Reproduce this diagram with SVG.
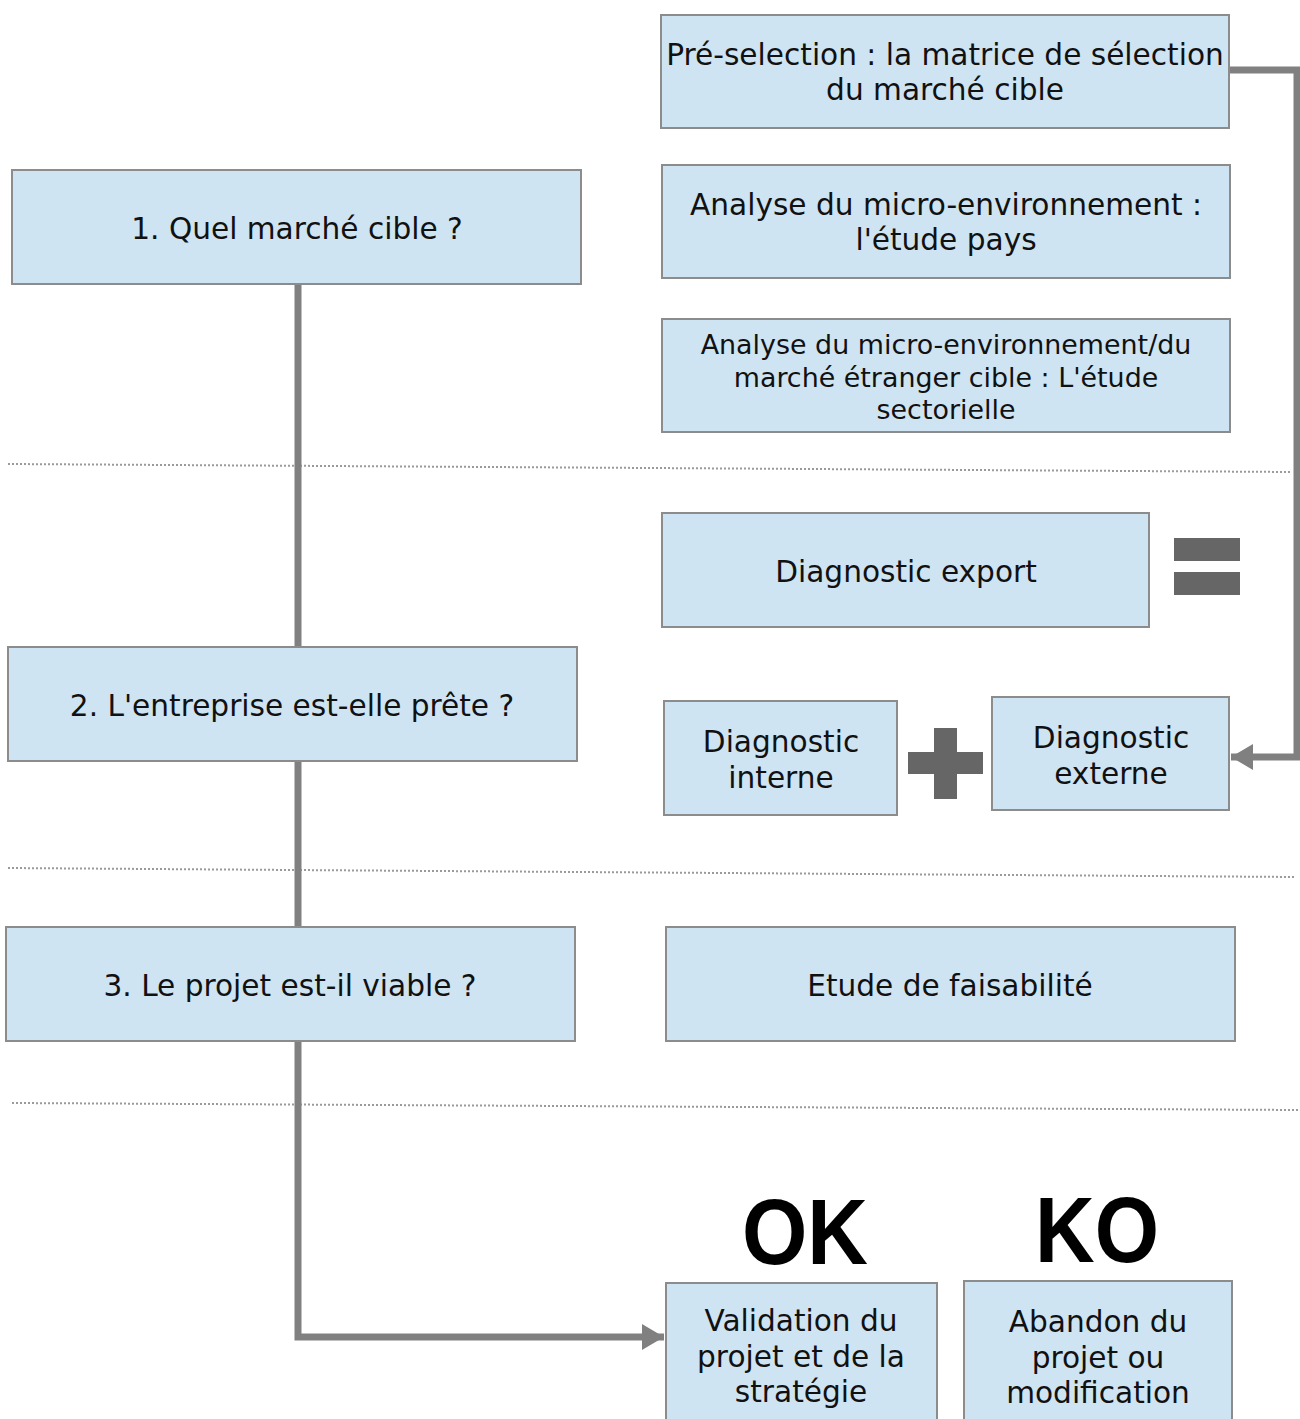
<svg xmlns="http://www.w3.org/2000/svg" width="1300" height="1419" viewBox="0 0 1300 1419">
<style>
.box{fill:#cfe4f2;stroke:#8c8c8c;stroke-width:2}
.t{font-family:"DejaVu Sans","Verdana",sans-serif;font-size:29.6px;fill:#111;text-anchor:middle}
.ts{font-size:26.9px}
.big{font-family:"Liberation Sans",Arial,sans-serif;font-weight:bold;font-size:92px;fill:#000;text-anchor:middle}
.conn{fill:none;stroke:#808080;stroke-width:7}
.sep{stroke:#9a9a9a;stroke-width:2;stroke-dasharray:2 2}
.sym{fill:#666666}
</style>
<defs>
<marker id="arr" markerUnits="userSpaceOnUse" markerWidth="24" markerHeight="26" refX="22" refY="13" orient="auto">
<path d="M0,0 L22,13 L0,26 Z" fill="#808080"/>
</marker>
</defs>
<g id="separators">
<line class="sep" x1="8" y1="464" x2="1292" y2="472"/>
<line class="sep" x1="8" y1="868" x2="1294" y2="877"/>
<line class="sep" x1="12" y1="1103" x2="1298" y2="1110"/>
</g>
<g id="connectors">
<path class="conn" d="M298,284 V1337 H664" marker-end="url(#arr)"/>
<path class="conn" d="M1229,70 H1297 V757 H1231" marker-end="url(#arr)"/>
</g>
<g id="n-preselection">
<rect class="box" x="661" y="15" width="568" height="113"/>
<text class="t" x="945" y="65">Pré-selection : la matrice de sélection</text>
<text class="t" x="945" y="100">du marché cible</text>
</g>
<g id="n-etude-pays">
<rect class="box" x="662" y="165" width="568" height="113"/>
<text class="t" x="946" y="215">Analyse du micro-environnement :</text>
<text class="t" x="946" y="250">l'étude pays</text>
</g>
<g id="n-etude-sectorielle">
<rect class="box" x="662" y="319" width="568" height="113"/>
<text class="t ts" x="946" y="354">Analyse du micro-environnement/du</text>
<text class="t ts" x="946" y="387">marché étranger cible : L'étude</text>
<text class="t ts" x="946" y="419">sectorielle</text>
</g>
<g id="n-diag-export">
<rect class="box" x="662" y="513" width="487" height="114"/>
<text class="t" x="906" y="582">Diagnostic export</text>
</g>
<g id="equals">
<rect class="sym" x="1174" y="538" width="66" height="23"/>
<rect class="sym" x="1174" y="572" width="66" height="23"/>
</g>
<g id="n-diag-interne">
<rect class="box" x="664" y="701" width="233" height="114"/>
<text class="t" x="781" y="752">Diagnostic</text>
<text class="t" x="781" y="788">interne</text>
</g>
<g id="plus">
<rect class="sym" x="908" y="752" width="75" height="22"/>
<rect class="sym" x="934" y="728" width="23" height="71"/>
</g>
<g id="n-diag-externe">
<rect class="box" x="992" y="697" width="237" height="113"/>
<text class="t" x="1111" y="748">Diagnostic</text>
<text class="t" x="1111" y="784">externe</text>
</g>
<g id="n-q1">
<rect class="box" x="12" y="170" width="569" height="114"/>
<text class="t" x="297" y="239">1. Quel marché cible ?</text>
</g>
<g id="n-q2">
<rect class="box" x="8" y="647" width="569" height="114"/>
<text class="t" x="292" y="716">2. L'entreprise est-elle prête ?</text>
</g>
<g id="n-q3">
<rect class="box" x="6" y="927" width="569" height="114"/>
<text class="t" x="290" y="996">3. Le projet est-il viable ?</text>
</g>
<g id="n-faisabilite">
<rect class="box" x="666" y="927" width="569" height="114"/>
<text class="t" x="950" y="996">Etude de faisabilité</text>
</g>
<g id="ok-ko">
<text class="big" x="805" y="1264" textLength="126" lengthAdjust="spacingAndGlyphs">OK</text>
<text class="big" x="1097" y="1262" textLength="124" lengthAdjust="spacingAndGlyphs">KO</text>
</g>
<g id="n-validation">
<rect class="box" x="666" y="1283" width="271" height="150"/>
<text class="t" x="801" y="1331">Validation du</text>
<text class="t" x="801" y="1367">projet et de la</text>
<text class="t" x="801" y="1402">stratégie</text>
</g>
<g id="n-abandon">
<rect class="box" x="964" y="1281" width="268" height="150"/>
<text class="t" x="1098" y="1332">Abandon du</text>
<text class="t" x="1098" y="1368">projet ou</text>
<text class="t" x="1098" y="1403">modification</text>
</g>
</svg>
